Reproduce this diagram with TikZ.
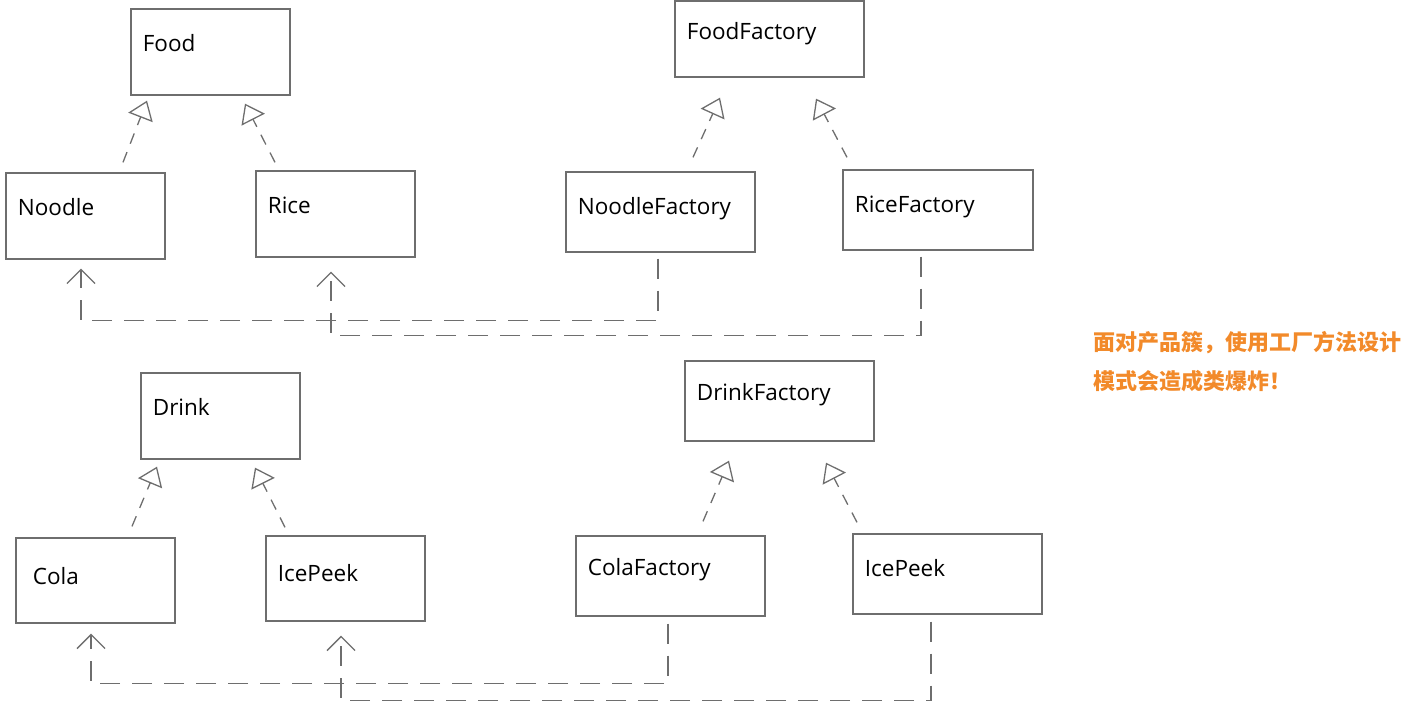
\documentclass[tikz,border=0pt]{standalone}
\usepackage{fontspec}
\setmainfont{Open Sans}
\newfontfamily\cjk{Noto Sans CJK SC}
\usepackage{tikz}
\usetikzlibrary{positioning}
\usetikzlibrary{arrows.meta}
\definecolor{linegray}{HTML}{6E6E6E}
\definecolor{noteorange}{HTML}{F28A2A}

\begin{document}
\begin{tikzpicture}[x=1pt, y=-1pt,
	box/.style={draw=linegray, line width=1.3pt, minimum width=159pt, minimum height=86pt, inner sep=0pt},
	fbox/.style={box, minimum width=189pt, minimum height=80pt},
	lbl/.style={anchor=base west, xshift=9pt, yshift=-43pt, font=\fontsize{22.5}{26}\selectfont, text=black},
	impl/.style={draw=linegray, line width=1.3pt, dash pattern=on 11pt off 9pt, -{Triangle[open, length=18pt, width=26pt]}},
	dep/.style={draw=linegray, line width=1.3pt, dash pattern=on 20pt off 12pt, -{Straight Barb[length=14pt, width=28pt]}}]
	\useasboundingbox (0,0) rectangle (1420,720);
	% food side
	\node[box, label={[lbl]north west:Food}] (food) at (210.5,52) {};
	\node[box, label={[lbl]north west:Noodle}] (noodle) at (85.5,216) {};
	\node[box, label={[lbl]north west:Rice}] (rice) at (335.5,214) {};
	\node[fbox, minimum height=76pt, label={[lbl, yshift=4pt]north west:FoodFactory}] (ffac) at (769.5,39) {};
	\node[fbox, label={[lbl]north west:NoodleFactory}] (nfac) at (660.5,212) {};
	\node[fbox, minimum width=190pt, label={[lbl]north west:RiceFactory}] (rfac) at (938,210) {};
	\draw[impl] ([xshift=37.5pt, yshift=10pt]noodle.north) -- ([xshift=-63.5pt, yshift=-5pt]food.south);
	\draw[impl] ([xshift=-60.5pt, yshift=8pt]rice.north) -- ([xshift=34.5pt, yshift=-8pt]food.south);
	\draw[impl] ([xshift=32.5pt, yshift=14pt]nfac.north) -- ([xshift=-49.5pt, yshift=-20pt]ffac.south);
	\draw[impl] ([xshift=-91pt, yshift=12pt]rfac.north) -- ([xshift=46.5pt, yshift=-21pt]ffac.south);
	\draw[dep] ([xshift=-2.5pt, yshift=-6pt]nfac.south) -- ++(0,62) -| ([xshift=-4.5pt, yshift=-9pt]noodle.south);
	\draw[dep] ([xshift=-17pt, yshift=-6pt]rfac.south) -- ++(0,79) -| ([xshift=-4.5pt, yshift=-14pt]rice.south);
	% drink side
	\node[box, label={[lbl]north west:Drink}] (drink) at (220.5,416) {};
	\node[box, minimum height=85pt, label={[lbl, xshift=5pt, yshift=-4pt]north west:Cola}] (cola) at (95.5,580.5) {};
	\node[box, minimum height=85pt, label={[lbl, yshift=-3pt]north west:IcePeek}] (ipeek) at (345.5,578.5) {};
	\node[fbox, label={[lbl, yshift=3pt]north west:DrinkFactory}] (dfac) at (779.5,401) {};
	\node[fbox, label={[lbl, yshift=3pt]north west:ColaFactory}] (cfac) at (670.5,576) {};
	\node[fbox, label={[lbl]north west:IcePeek}] (ipeekf) at (947.5,574) {};
	\draw[impl] ([xshift=36.5pt, yshift=11pt]cola.north) -- ([xshift=-63.5pt, yshift=-7pt]drink.south);
	\draw[impl] ([xshift=-60.5pt, yshift=8pt]ipeek.north) -- ([xshift=34.5pt, yshift=-8pt]drink.south);
	\draw[impl] ([xshift=32.5pt, yshift=14pt]cfac.north) -- ([xshift=-50.5pt, yshift=-19pt]dfac.south);
	\draw[impl] ([xshift=-90.5pt, yshift=11pt]ipeekf.north) -- ([xshift=46.5pt, yshift=-21pt]dfac.south);
	\draw[dep] ([xshift=-2.5pt, yshift=-7pt]cfac.south) -- ++(0,60) -| ([xshift=-4.5pt, yshift=-10pt]cola.south);
	\draw[dep] ([xshift=-16.5pt, yshift=-7pt]ipeekf.south) -- ++(0,79) -| ([xshift=-4.5pt, yshift=-14pt]ipeek.south);
	% note
	\node[anchor=north west, align=left, inner sep=0pt, text=noteorange, font=\cjk\bfseries\fontsize{22}{39}\selectfont] (note) at (1093,331) {面对产品簇，使用工厂方法设计\\模式会造成类爆炸！};
\end{tikzpicture}
\end{document}
